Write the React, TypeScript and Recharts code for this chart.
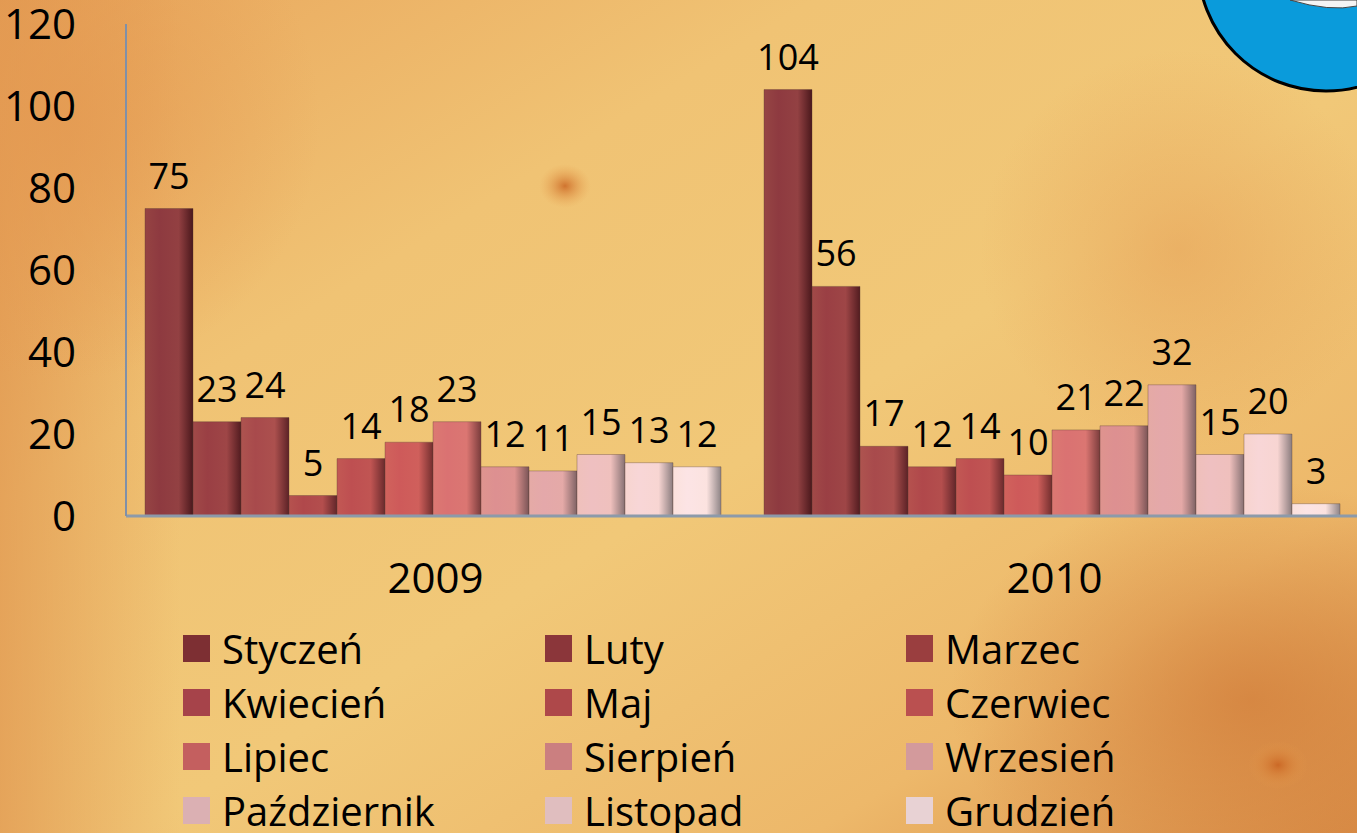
import React from 'react';
import { BarChart, Bar, XAxis, YAxis, LabelList } from 'recharts';

const years = ['2009', '2010'];
const months = ['Styczeń', 'Luty', 'Marzec', 'Kwiecień', 'Maj', 'Czerwiec', 'Lipiec', 'Sierpień', 'Wrzesień', 'Październik', 'Listopad', 'Grudzień'];
const values2009 = [75, 23, 24, 5, 14, 18, 23, 12, 11, 15, 13, 12];
const values2010 = [104, 56, 17, 12, 14, 10, 21, 22, 32, 15, 20, 3];
const yTicks = [0, 20, 40, 60, 80, 100, 120];

const legendColors = ['#7D2F33', '#8B363A', '#9A3E3F', '#A6434A', '#AE484A', '#BA5050', '#C45F5F', '#CB7F80', '#D39A9C', '#DBB0B3', '#E0BEBF', '#E8D2D4'];
const faceColors = ['#8E3A40', '#9A3F44', '#A84A4C', '#B0484B', '#BE4F51', '#CE5A5A', '#DA7272', '#DD9091', '#E4A8AA', '#EFC0C1', '#F8D6D7', '#FCE4E5'];
const edgeColors = ['#4A181C', '#521C20', '#5C2226', '#62262A', '#6A2A2C', '#722E2E', '#7A3C3C', '#7A5456', '#7E6264', '#867072', '#8A7C7E', '#8E8486'];

const seriesValues = [values2009, values2010];
const data = years.map((y, i) => {
  const row: Record<string, string | number> = { year: y };
  months.forEach((m, j) => {
    row[m] = seriesValues[i][j];
  });
  return row;
});

const FONT = '"Open Sans", Calibri, sans-serif';

function Background() {
  return (
    <svg width={1357} height={833} style={{ position: 'absolute', left: 0, top: 0 }}>
      <defs>
        <linearGradient id="bgBase" x1="0" y1="0" x2="1" y2="1">
          <stop offset="0%" stopColor="#E9A65C" />
          <stop offset="30%" stopColor="#F0C374" />
          <stop offset="55%" stopColor="#F1C878" />
          <stop offset="80%" stopColor="#EDB86A" />
          <stop offset="100%" stopColor="#D98E48" />
        </linearGradient>
        <linearGradient id="leftEdge" x1="0" y1="0" x2="1" y2="0">
          <stop offset="0%" stopColor="#E0954E" stopOpacity={0.7} />
          <stop offset="100%" stopColor="#E0954E" stopOpacity={0} />
        </linearGradient>
        <radialGradient id="spot1" cx="0.5" cy="0.5" r="0.5">
          <stop offset="0%" stopColor="#C8601E" stopOpacity={0.8} />
          <stop offset="100%" stopColor="#E8A050" stopOpacity={0} />
        </radialGradient>
        <radialGradient id="orangeTL" cx="0.5" cy="0.5" r="0.5">
          <stop offset="0%" stopColor="#E49A52" stopOpacity={0.8} />
          <stop offset="100%" stopColor="#E49A52" stopOpacity={0} />
        </radialGradient>
        <radialGradient id="orangeBR" cx="0.5" cy="0.5" r="0.5">
          <stop offset="0%" stopColor="#D07A38" stopOpacity={0.7} />
          <stop offset="100%" stopColor="#D07A38" stopOpacity={0} />
        </radialGradient>
      </defs>
      <rect x={0} y={0} width={1357} height={833} fill="url(#bgBase)" />
      <rect x={0} y={0} width={180} height={833} fill="url(#leftEdge)" />
      <ellipse cx={60} cy={120} rx={260} ry={260} fill="url(#orangeTL)" />
      <ellipse cx={1250} cy={700} rx={300} ry={220} fill="url(#orangeBR)" />
      <ellipse cx={1180} cy={250} rx={200} ry={200} fill="url(#orangeTL)" opacity={0.6} />
      <ellipse cx={565} cy={186} rx={26} ry={22} fill="url(#spot1)" />
      <ellipse cx={1278} cy={765} rx={30} ry={24} fill="url(#spot1)" />
      <circle cx={1326} cy={-37} r={128} fill="#0A9BDB" stroke="#000" strokeWidth={3} />
      <path d="M1290,0 Q1330,12 1357,6 L1357,0 Z" fill="#F4F4F4" stroke="#444" strokeWidth={1} />
    </svg>
  );
}

function LegendGrid() {
  const colX = [183, 545, 906];
  const rowY = [648, 702, 756, 810];
  return (
    <div style={{ position: 'absolute', left: 0, top: 0, width: 1357, height: 833, pointerEvents: 'none' }}>
      {months.map((m, i) => {
        const col = i % 3;
        const row = Math.floor(i / 3);
        return (
          <div
            key={m}
            style={{
              position: 'absolute',
              left: colX[col],
              top: rowY[row] - 27,
              height: 54,
              display: 'flex',
              alignItems: 'center',
              fontFamily: FONT,
              fontSize: 40,
              color: '#000',
              whiteSpace: 'nowrap',
            }}
          >
            <span style={{ display: 'inline-block', width: 27, height: 27, background: legendColors[i], marginRight: 12 }} />
            <span>{m}</span>
          </div>
        );
      })}
    </div>
  );
}

export default function App() {
  return (
    <div style={{ position: 'absolute', left: 0, top: 0, width: 1357, height: 833, overflow: 'hidden' }}>
      <Background />
      <div style={{ position: 'absolute', left: 0, top: 0 }}>
        <BarChart
          width={1367}
          height={833}
          data={data}
          margin={{ top: 24, right: 3, bottom: 217, left: 0 }}
          barCategoryGap={19}
          barGap={0}
        >
          <defs>
            {months.map((m, i) => (
              <linearGradient key={m} id={`g${i}`} x1="0" y1="0" x2="1" y2="0">
                <stop offset="0%" stopColor={faceColors[i]} stopOpacity={0.92} />
                <stop offset="30%" stopColor={faceColors[i]} />
                <stop offset="70%" stopColor={faceColors[i]} stopOpacity={0.95} />
                <stop offset="100%" stopColor={edgeColors[i]} />
              </linearGradient>
            ))}
          </defs>
          <XAxis
            dataKey="year"
            height={100}
            axisLine={{ stroke: '#8C9AAA', strokeWidth: 3 }}
            tickLine={false}
            tickSize={0}
            tickMargin={47}
            tick={{ fill: '#000', fontSize: 42, fontFamily: FONT }}
          />
          <YAxis
            width={126}
            domain={[0, 120]}
            ticks={yTicks}
            interval={0}
            axisLine={{ stroke: '#8090A8', strokeWidth: 2 }}
            tickLine={false}
            tickMargin={44}
            tick={{ fill: '#000', fontSize: 42, fontFamily: FONT }}
          />
          {months.map((m, i) => (
            <Bar key={m} dataKey={m} fill={`url(#g${i})`} stroke="rgba(90,60,50,0.35)" strokeWidth={1} isAnimationActive={false}>
              <LabelList dataKey={m} position="top" offset={20} fill="#000" fontSize={36} fontFamily={FONT} />
            </Bar>
          ))}
        </BarChart>
      </div>
      <LegendGrid />
    </div>
  );
}
